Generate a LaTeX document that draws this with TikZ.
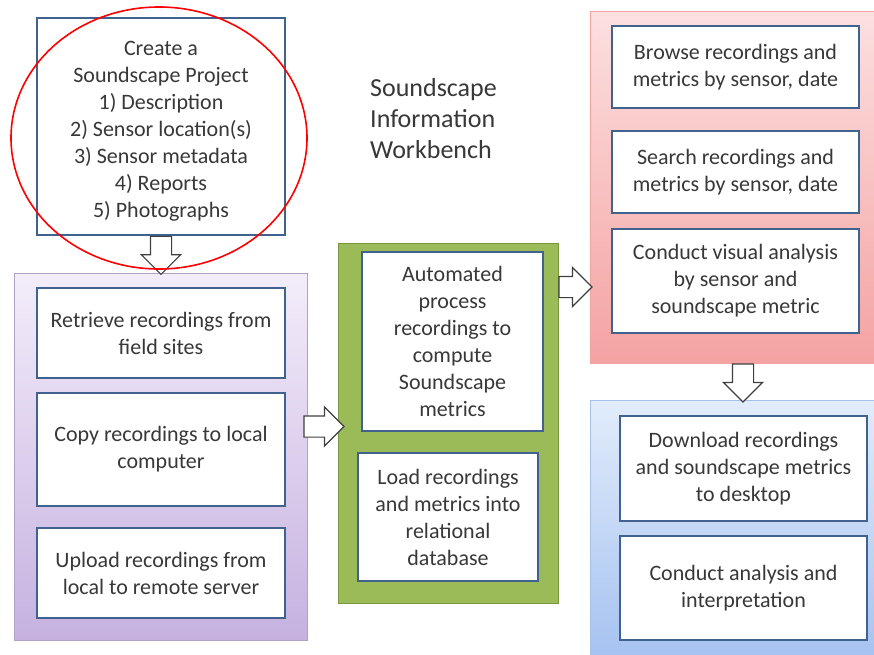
\documentclass[tikz,border=0pt]{standalone}
\usepackage{fontspec}
\setmainfont{Carlito}
\usetikzlibrary{positioning}
\usetikzlibrary{shapes.arrows}
\usetikzlibrary{shapes.geometric}
\definecolor{boxline}{HTML}{41618F}
\definecolor{txtgray}{HTML}{383838}
\definecolor{greenfill}{HTML}{9BBB59}
\definecolor{greenline}{HTML}{79983D}
\definecolor{lilactop}{HTML}{F3EDFA}
\definecolor{lilacbot}{HTML}{C6B1E0}
\definecolor{pinktop}{HTML}{FCE0E0}
\definecolor{pinkbot}{HTML}{F4A2A2}
\definecolor{skytop}{HTML}{E2ECFB}
\definecolor{skybot}{HTML}{A4C1F0}
\tikzset{
  stepbox/.style={draw=boxline, line width=1.5pt, fill=white, align=center, text=txtgray,
    inner sep=0pt, font=\fontsize{22}{27}\selectfont},
  panel/.style={draw=#1, line width=0.8pt, inner sep=0pt},
  blockarrow/.style={single arrow, draw=black!75, fill=white, line width=1.2pt,
    inner xsep=0pt, inner ysep=10pt, single arrow head extend=9pt, single arrow tip angle=90}
}
\begin{document}
\begin{tikzpicture}[x=1pt,y=-1pt]
\useasboundingbox (0,0) rectangle (874,654);
\fill[white] (0,0) rectangle (874,654);
% panels
\node(purple)[panel=lilacbot!70!gray, top color=lilactop, bottom color=lilacbot,
  minimum width=293pt, minimum height=367pt] at (160.5,456.5) {};
\node(green)[panel=greenline, fill=greenfill, minimum width=220pt, minimum height=360pt] at (448,423) {};
\node(red)[panel=pinkbot, top color=pinktop, bottom color=pinkbot, minimum width=300pt, minimum height=352pt] at (740,187) {};
\node(blue)[panel=skybot, top color=skytop, bottom color=skybot, minimum width=300pt, minimum height=264pt] at (740,532) {};
% project box
\node(create)[stepbox, minimum width=248pt, minimum height=217pt] at (161,126.5)
  {\rule{0pt}{23pt}Create a\\Soundscape Project\\1) Description\\2) Sensor location(s)\\3) Sensor metadata\\4) Reports\\5) Photographs};
\node(title)[anchor=north west, align=left, text=txtgray, inner sep=0pt,
  font=\fontsize{26}{31}\selectfont] at (370,78) {Soundscape\\Information\\Workbench};
% left column
\node(P1)[stepbox, minimum width=248pt, minimum height=90pt] at (161,333) {Retrieve recordings from\\field sites};
\node(P2)[stepbox, minimum width=248pt, minimum height=113pt] at (161,449.5) {Copy recordings to local\\computer};
\node(P3)[stepbox, minimum width=248pt, minimum height=90pt] at (161,573) {Upload recordings from\\local to remote server};
% middle column
\node(G1)[stepbox, minimum width=181pt, minimum height=179pt] at (452.5,341.5) {Automated\\process\\recordings to\\compute\\Soundscape\\metrics};
\node(G2)[stepbox, minimum width=180pt, minimum height=128pt] at (448,517) {Load recordings\\and metrics into\\relational\\database};
% right column
\node(R1)[stepbox, minimum width=247pt, minimum height=82pt] at (735.5,67) {Browse recordings and\\metrics by sensor, date};
\node(R2)[stepbox, minimum width=247pt, minimum height=82pt] at (735.5,172) {Search recordings and\\metrics by sensor, date};
\node(R3)[stepbox, minimum width=247pt, minimum height=104pt] at (735.5,281) {Conduct visual analysis\\by sensor and\\soundscape metric};
\node(B1)[stepbox, minimum width=247pt, minimum height=105pt] at (743.5,468.5) {Download recordings\\and soundscape metrics\\to desktop};
\node(B2)[stepbox, minimum width=247pt, minimum height=104pt] at (743.5,588) {Conduct analysis and\\interpretation};
% block arrows
\node(a1)[blockarrow, minimum height=38pt, rotate=-90, anchor=tail] at (create.south) {};
\node(a2)[blockarrow, minimum height=40pt, anchor=tail] at ([xshift=-4pt,yshift=30pt]purple.east) {};
\node(a3)[blockarrow, minimum height=33pt, anchor=tail] at ([yshift=136pt]green.east) {};
\node(a4)[blockarrow, minimum height=38pt, rotate=-90, anchor=tail] at ([xshift=3pt]red.south) {};
% highlight
\node(ring)[draw=red, line width=1.6pt, ellipse, inner sep=0pt, minimum width=296pt, minimum height=262pt] at (159,138) {};
\end{tikzpicture}
\end{document}
